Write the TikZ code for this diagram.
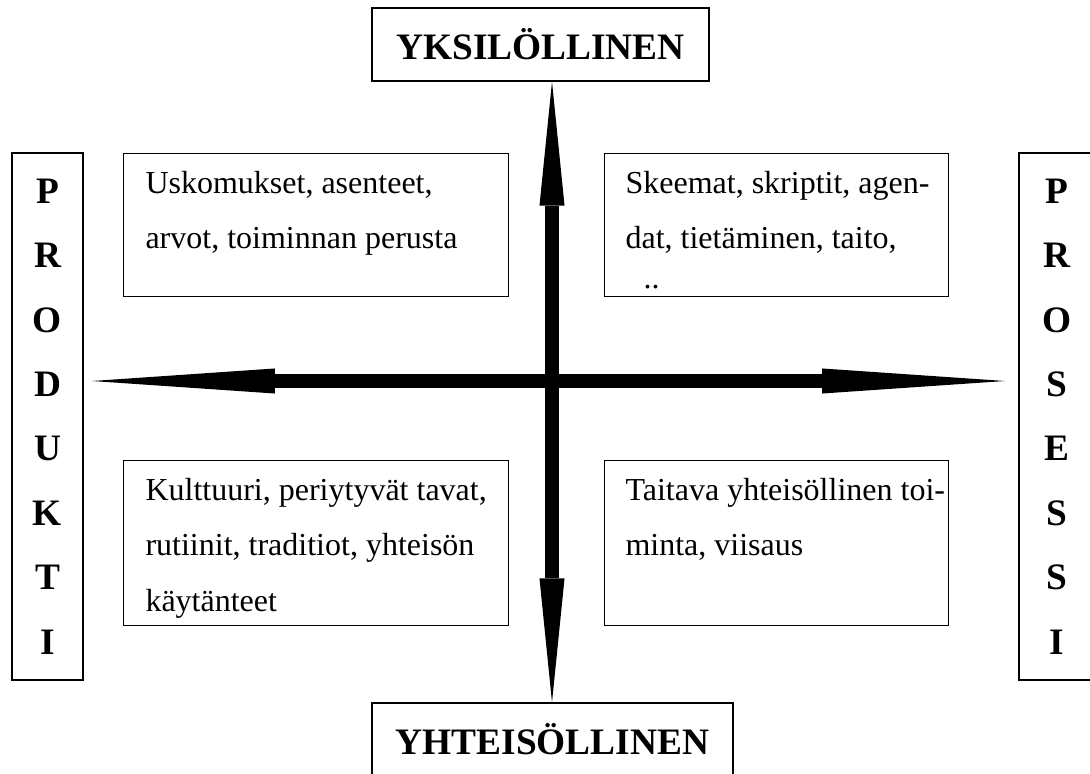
\documentclass[tikz,border=0pt]{standalone}
\usepackage{fontspec}
\setmainfont{Liberation Serif}
\usetikzlibrary{arrows.meta,positioning}
\tikzset{
	qbox/.style={draw, line width=.5pt, inner sep=0pt},
	qtext/.style={anchor=north west, inner sep=0pt, align=left, font=\fontsize{12}{20.7}\selectfont},
	titlebox/.style={qbox, minimum height=27.4pt, font=\bfseries\fontsize{14}{16}\selectfont},
	sidebox/.style={qbox, minimum width=26.6pt, minimum height=197.6pt, align=center, font=\bfseries\fontsize{14}{24.15}\selectfont},
	axisline/.style={line width=5.25pt},
	longhead/.tip={Triangle[length=68.6pt, width=9.4pt, line width=0pt]},
	shorthead/.tip={Triangle[length=46.5pt, width=9.4pt, line width=0pt]},
}
\begin{document}
\begin{tikzpicture}[x=0.375pt, y=-0.375pt]
				\clip (0,0) rectangle (1090,773);
				\coordinate (hub) at (552,381);
				\coordinate (wtip) at (92,381);
				\coordinate (etip) at (1005,381);
				\node[titlebox, minimum width=126.4pt] (ind) at (540.5,44.5) {YKSILÖLLINEN};
				\node[titlebox, minimum width=135.4pt] (com) at (552.5,739.5) {YHTEISÖLLINEN};
				\node[sidebox] (prod) at (47.5,416.5) {P\\R\\O\\D\\U\\K\\T\\I};
				\node[sidebox, minimum width=28.5pt] (pros) at (1057,416.5) {P\\R\\O\\S\\E\\S\\S\\I};
				\node[qbox, anchor=north west, minimum width=144.4pt, minimum height=53.6pt] (ul) at (123,153) {};
				\node[qbox, anchor=north west, minimum width=129pt, minimum height=53.6pt] (ur) at (604,153) {};
				\node[qbox, anchor=north west, minimum width=144.4pt, minimum height=61.9pt] (ll) at (123,460) {};
				\node[qbox, anchor=north west, minimum width=129pt, minimum height=61.9pt] (lr) at (604,460) {};
				\node[qtext] (ul text) at ([shift={(22,18)}]ul.north west) {Uskomukset, asenteet,\\arvot, toiminnan perusta};
				\node[qtext] (ur text) at ([shift={(21,18)}]ur.north west) {Skeemat, skriptit, agen-\\dat, tietäminen, taito,\\[-6pt]\hspace*{6.75pt}..};
				\node[qtext] (ll text) at ([shift={(22,18)}]ll.north west) {Kulttuuri, periytyvät tavat,\\rutiinit, traditiot, yhteisön\\käytänteet};
				\node[qtext] (lr text) at ([shift={(21,18)}]lr.north west) {Taitava yhteisöllinen toi-\\minta, viisaus};
				\draw[axisline, longhead-longhead] (wtip) -- (etip);
				\draw[axisline, shorthead-shorthead] (hub |- ind.south) -- (hub |- com.north);
			\end{tikzpicture}
\end{document}
